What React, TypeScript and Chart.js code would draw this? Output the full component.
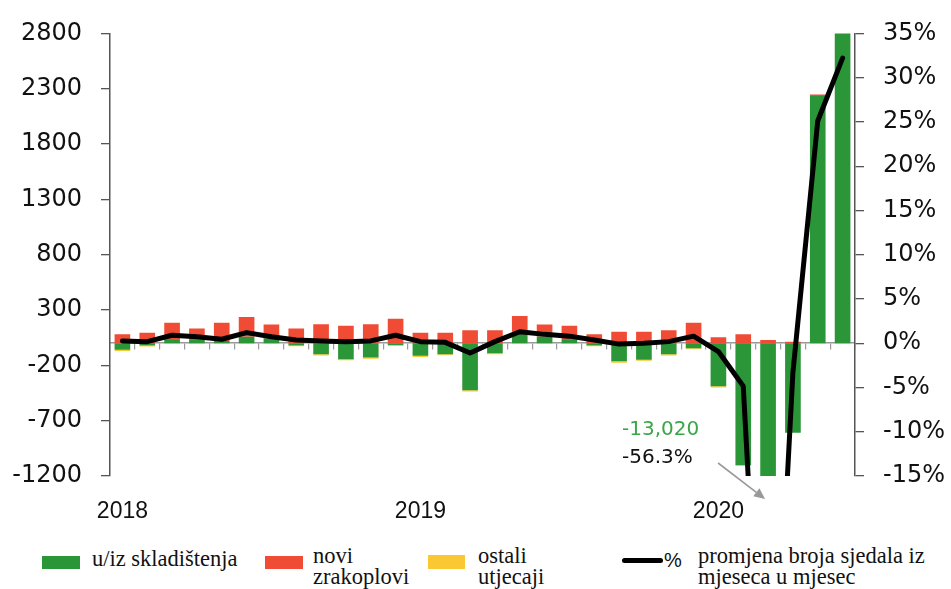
import React, { useEffect, useRef } from 'react';
import { Chart, registerables } from 'chart.js';

Chart.register(...registerables);

const categories = [
  '2018-01', '2018-02', '2018-03', '2018-04', '2018-05', '2018-06',
  '2018-07', '2018-08', '2018-09', '2018-10', '2018-11', '2018-12',
  '2019-01', '2019-02', '2019-03', '2019-04', '2019-05', '2019-06',
  '2019-07', '2019-08', '2019-09', '2019-10', '2019-11', '2019-12',
  '2020-01', '2020-02', '2020-03', '2020-04', '2020-05', '2020-06',
];

// u/iz skladištenja
const greenSeries = [
  -60, -20, 29, 29, 20, 59, 44, -20, -100, -144, -130, -15,
  -114, -100, -426, -90, 104, 60, 30, -20, -164, -149, -100, -45,
  -388, -1100, -13020, -808, 2235, 2950,
];
// novi zrakoplovi
const redSeries = [
  80, 95, 155, 104, 164, 179, 126, 133, 172, 157, 172, 222,
  95, 95, 118, 118, 142, 110, 127, 80, 104, 104, 118, 184,
  53, 80, 29, 14, 12, 0,
];
// ostali utjecaji
const yellowSeries = [
  -10, -10, 0, 0, 0, 0, 0, -8, -10, -10, -10, -10,
  -10, -8, -10, -10, 0, 0, -5, -8, -12, -10, -10, -10,
  -12, -10, 0, 0, 0, 0,
];
// % promjena broja sjedala iz mjeseca u mjesec
const pctSeries = [
  0.26, 0.18, 0.9, 0.74, 0.45, 1.2, 0.74, 0.37, 0.26, 0.18, 0.26, 0.9,
  0.18, 0.1, -1.1, 0.18, 1.3, 1.0, 0.8, 0.37, -0.1, 0.0, 0.18, 0.8,
  -0.94, -4.85, -56.3, -3.3, 25.1, 32.2,
];

const leftTicks = [-1200, -700, -200, 300, 800, 1300, 1800, 2300, 2800];
const rightTicks = [-15, -10, -5, 0, 5, 10, 15, 20, 25, 30, 35];
const annotIndex = 26;

const GREEN = '#2b9637';
const RED = '#f04b35';
const YELLOW = '#fac832';
const AXIS = '#555555';

const annotationPlugin = {
  id: 'annot',
  afterDraw(chart: any) {
    const { ctx, scales, chartArea } = chart;
    const tipX = scales.x.getPixelForValue(annotIndex) - 3;
    const tipY = chartArea.bottom + 23;
    const g = greenSeries[annotIndex];
    const gText = (g < 0 ? '-' : '') + Math.abs(g).toLocaleString('en-US');
    const pText = pctSeries[annotIndex].toFixed(1) + '%';
    ctx.save();
    ctx.font = '20px "DejaVu Sans"';
    ctx.textAlign = 'left';
    ctx.textBaseline = 'alphabetic';
    ctx.fillStyle = '#3aa648';
    ctx.fillText(gText, tipX - 143, tipY - 64);
    ctx.fillStyle = '#111';
    ctx.fillText(pText, tipX - 143, tipY - 36);
    // arrow
    const sx = tipX - 47;
    const sy = tipY - 36;
    const ang = Math.atan2(tipY - sy, tipX - sx);
    const headLen = 11;
    const bx = tipX - headLen * Math.cos(ang);
    const by = tipY - headLen * Math.sin(ang);
    ctx.strokeStyle = '#999';
    ctx.fillStyle = '#999';
    ctx.lineWidth = 1.6;
    ctx.beginPath();
    ctx.moveTo(sx, sy);
    ctx.lineTo(bx, by);
    ctx.stroke();
    ctx.beginPath();
    ctx.moveTo(tipX, tipY);
    ctx.lineTo(bx + 5 * Math.sin(ang), by - 5 * Math.cos(ang));
    ctx.lineTo(bx - 5 * Math.sin(ang), by + 5 * Math.cos(ang));
    ctx.closePath();
    ctx.fill();
    ctx.restore();
  },
};

const legendText: React.CSSProperties = {
  position: 'absolute',
  fontFamily: '"Liberation Serif", "Times New Roman", serif',
  fontSize: '22.5px',
  lineHeight: '21px',
  color: '#111',
  whiteSpace: 'nowrap',
};

export default function App() {
  const ref = useRef<HTMLCanvasElement>(null);

  useEffect(() => {
    const canvas = ref.current;
    if (!canvas) return;
    const chart = new Chart(canvas, {
      type: 'bar',
      data: {
        labels: categories,
        datasets: [
          {
            type: 'line',
            label: '% promjena broja sjedala iz mjeseca u mjesec',
            data: pctSeries,
            yAxisID: 'y1',
            xAxisID: 'x',
            borderColor: '#000',
            backgroundColor: '#000',
            borderWidth: 5,
            pointRadius: 0,
            tension: 0,
            borderJoinStyle: 'round',
            borderCapStyle: 'round',
            order: 0,
            clip: 0,
          } as any,
          {
            label: 'u/iz skladištenja',
            data: greenSeries,
            backgroundColor: GREEN,
            yAxisID: 'y',
            xAxisID: 'x',
            order: 1,
            clip: 0,
          },
          {
            label: 'novi zrakoplovi',
            data: redSeries,
            backgroundColor: RED,
            yAxisID: 'y',
            xAxisID: 'x',
            order: 1,
            clip: 0,
          },
          {
            label: 'ostali utjecaji',
            data: yellowSeries,
            backgroundColor: YELLOW,
            yAxisID: 'y',
            xAxisID: 'x',
            order: 1,
            clip: 0,
          },
        ],
      },
      options: {
        responsive: false,
        animation: false,
        devicePixelRatio: 1,
        layout: { padding: { top: 28, left: 0, right: 0, bottom: 0 } },
        datasets: { bar: { barPercentage: 0.63, categoryPercentage: 1 } },
        plugins: {
          legend: { display: false },
          tooltip: { enabled: false },
        },
        scales: {
          x: {
            type: 'category',
            position: 'bottom',
            stacked: true,
            offset: true,
            grid: { display: false, drawTicks: false, offset: true },
            border: { display: false },
            ticks: {
              autoSkip: false,
              maxRotation: 0,
              padding: 22,
              color: '#111',
              font: { family: '"Liberation Sans", Arial, sans-serif', size: 23 },
              callback: (_v: any, i: number) =>
                categories[i].endsWith('-01') ? categories[i].slice(0, 4) : '',
            },
            afterFit: (s: any) => {
              s.height = 64;
            },
          },
          x2: {
            type: 'category',
            position: { y: 0 } as any,
            offset: true,
            grid: {
              offset: true,
              drawOnChartArea: false,
              drawTicks: true,
              tickLength: 6,
              color: '#9a9a9a',
              lineWidth: 1.2,
            },
            border: { display: true, color: '#9a9a9a', width: 1.6 },
            ticks: { display: false },
          },
          y: {
            type: 'linear',
            position: 'left',
            stacked: true,
            min: -1200,
            max: 2800,
            afterBuildTicks: (s: any) => {
              s.ticks = leftTicks.map((v) => ({ value: v }));
            },
            grid: {
              drawOnChartArea: false,
              drawTicks: true,
              tickLength: 9,
              color: AXIS,
              lineWidth: 1.3,
            },
            border: { display: true, color: AXIS, width: 1.5 },
            ticks: {
              padding: 19,
              color: '#111',
              font: { family: '"DejaVu Sans", sans-serif', size: 24 },
              callback: (v: any) => String(v),
            },
            afterFit: (s: any) => {
              s.width = 110;
            },
          },
          y1: {
            type: 'linear',
            position: 'right',
            min: -15,
            max: 35,
            afterBuildTicks: (s: any) => {
              s.ticks = rightTicks.map((v) => ({ value: v }));
            },
            grid: {
              drawOnChartArea: false,
              drawTicks: true,
              tickLength: 9,
              color: AXIS,
              lineWidth: 1.3,
            },
            border: { display: true, color: AXIS, width: 1.5 },
            ticks: {
              padding: 19,
              color: '#111',
              font: { family: '"DejaVu Sans", sans-serif', size: 24 },
              callback: (v: any) => v + '%',
            },
            afterFit: (s: any) => {
              s.width = 96;
            },
          },
        },
      },
      plugins: [annotationPlugin],
    });
    return () => chart.destroy();
  }, []);

  return (
    <div
      style={{
        position: 'absolute',
        left: 0,
        top: 0,
        width: 951,
        height: 589,
        background: '#fff',
        overflow: 'hidden',
      }}
    >
      <canvas ref={ref} width={951} height={540} style={{ position: 'absolute', left: 0, top: 0 }} />
      <div style={{ position: 'absolute', left: 42, top: 556, width: 38, height: 13, background: GREEN }} />
      <div style={{ ...legendText, left: 92, top: 548 }}>u/iz skladištenja</div>
      <div style={{ position: 'absolute', left: 265, top: 556, width: 38, height: 13, background: RED }} />
      <div style={{ ...legendText, left: 313, top: 545 }}>
        novi
        <br />
        zrakoplovi
      </div>
      <div style={{ position: 'absolute', left: 428, top: 555, width: 37, height: 14, background: YELLOW }} />
      <div style={{ ...legendText, left: 478, top: 545 }}>
        ostali
        <br />
        utjecaji
      </div>
      <div
        style={{
          position: 'absolute',
          left: 622,
          top: 558,
          width: 41,
          height: 5,
          borderRadius: 3,
          background: '#000',
        }}
      />
      <div
        style={{
          position: 'absolute',
          left: 664,
          top: 550,
          fontFamily: '"Liberation Sans", Arial, sans-serif',
          fontSize: '20px',
          lineHeight: '20px',
          color: '#111',
        }}
      >
        %
      </div>
      <div style={{ ...legendText, left: 698, top: 545 }}>
        promjena broja sjedala iz
        <br />
        mjeseca u mjesec
      </div>
    </div>
  );
}
